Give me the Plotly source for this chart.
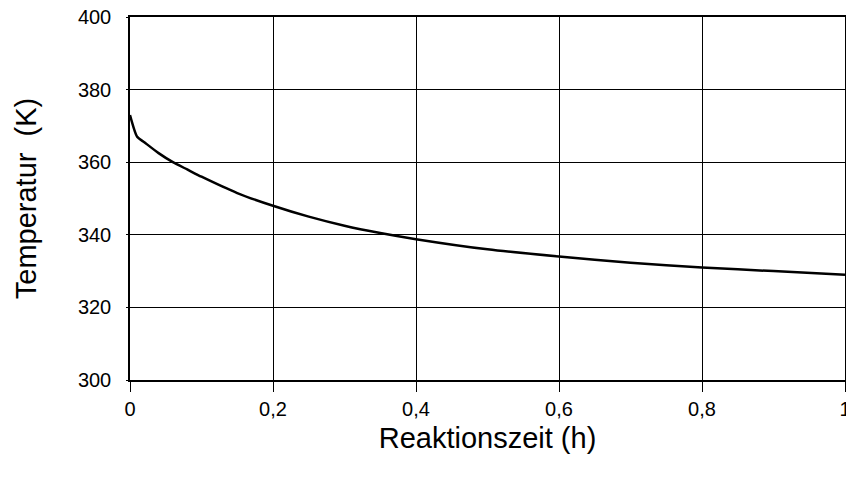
import plotly.graph_objects as go

zeit_h = [0, 0.01, 0.02, 0.04, 0.06, 0.08, 0.1, 0.15, 0.2, 0.25, 0.3, 0.35, 0.4, 0.5, 0.6, 0.7, 0.8, 0.9, 1.0]
temperatur_k = [373, 367, 365.5, 362.5, 360, 358, 356, 351.5, 348, 345, 342.5, 340.5, 338.8, 336, 334, 332.3, 331, 330, 329]
x_ticks = [0, 0.2, 0.4, 0.6, 0.8, 1]
x_labels = ["0", "0,2", "0,4", "0,6", "0,8", "1"]
y_ticks = [300, 320, 340, 360, 380, 400]

fig = go.Figure()
fig.add_trace(go.Scatter(x=zeit_h, y=temperatur_k, mode="lines",
                         line=dict(color="black", width=2.5, shape="spline", smoothing=0.6),
                         showlegend=False, cliponaxis=False))

font = "Liberation Sans, Arial, Helvetica, sans-serif"
fig.update_layout(
    width=846, height=480,
    margin=dict(l=130, r=1, t=17, b=100),
    paper_bgcolor="white", plot_bgcolor="white",
    font=dict(family=font, color="black", size=20),
)
fig.update_xaxes(range=[0, 1], tickvals=x_ticks, ticktext=x_labels,
                 showgrid=True, gridcolor="black", gridwidth=1,
                 showline=True, linecolor="black", linewidth=1.5, mirror=True,
                 ticks="outside", ticklen=10, tickcolor="black", tickwidth=1,
                 ticklabeloverflow="allow", automargin="bottom",
                 zeroline=False, tickfont=dict(size=20),
                 title=dict(text="Reaktionszeit (h)", font=dict(size=29), standoff=9))
fig.update_yaxes(range=[300, 400], tickvals=y_ticks,
                 showgrid=True, gridcolor="black", gridwidth=1,
                 showline=True, linecolor="black", linewidth=1.5, mirror=True,
                 ticks="outside", ticklen=2, tickcolor="black", tickwidth=1,
                 ticklabelstandoff=11, ticklabeloverflow="allow", automargin="left",
                 zeroline=False, tickfont=dict(size=20),
                 title=dict(text="Temperatur\u00a0\u00a0(K)", font=dict(size=29), standoff=33))

fig.write_html("out.html")
